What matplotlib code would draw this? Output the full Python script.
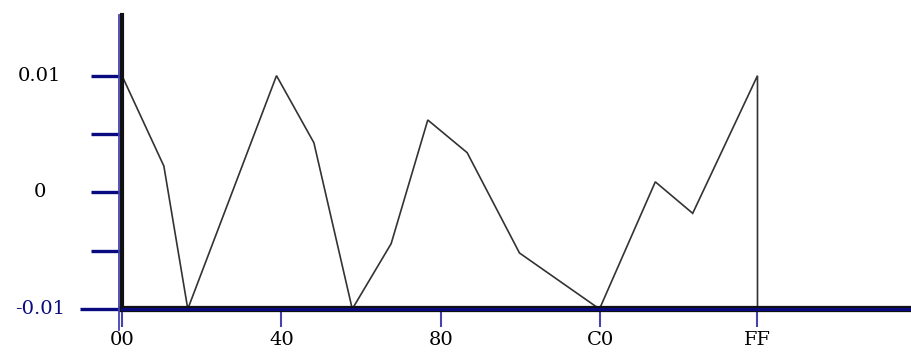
import matplotlib
matplotlib.use("Agg")
import matplotlib.pyplot as plt
import matplotlib.transforms as mtransforms

# data
x_vals = [0, 16.8, 26.4, 62, 77, 92.4, 108, 122.7, 138.5, 159.5, 191.6, 214, 229, 255, 255]
y_vals = [0.0100, 0.00225, -0.0100, 0.0100, 0.00425, -0.0100, -0.0044, 0.0062, 0.0034,
          -0.0052, -0.0100, 0.0009, -0.0018, 0.0100, -0.0100]
x_ticks = [0, 64, 128, 192, 255]
x_tick_labels = ["00", "40", "80", "C0", "FF"]
y_major = [-0.01, 0.0, 0.01]
y_major_labels = ["-0.01", "0", "0.01"]
y_minor = [-0.005, 0.005]

NAVY = "#0a0a80"
BLUE = "#4444b0"
FONT = ["DejaVu Serif"]

fig = plt.figure(figsize=(9.12, 3.58), dpi=100)
ax = fig.add_axes([122/912, (358-309)/358, (912-122)/912, (309-15)/358])
ax.plot(x_vals, y_vals, color="#333333", lw=1.2, solid_joinstyle="miter")

ax.set_xlim(0, 317)
ax.set_ylim(-0.01, 0.0152)

for s in ["top", "right"]:
    ax.spines[s].set_visible(False)
ax.spines["left"].set_color("#111111")
ax.spines["left"].set_linewidth(3)
ax.spines["bottom"].set_color("#111111")
ax.spines["bottom"].set_linewidth(4.5)
ax.spines["bottom"].set_zorder(3)
# inner navy stripe on bottom axis
ax.axhline(-0.01, color=NAVY, lw=2.2, zorder=4, clip_on=False)

# thin blue line left of the black spine
off = mtransforms.offset_copy(ax.transAxes, fig=fig, x=-2.5, y=0, units="dots")
ax.plot([0, 0], [-0.07, 1.0], color=BLUE, lw=1.3, transform=off, clip_on=False, zorder=5)

ax.set_xticks(x_ticks)
ax.set_xticklabels(x_tick_labels, family=FONT, fontsize=14)
ax.tick_params(axis="x", direction="out", length=13, width=1.5, color=BLUE, pad=3)

ax.set_yticks(y_major)
ax.set_yticks(y_minor, minor=True)
ax.set_yticklabels([])
ax.tick_params(axis="y", which="both", direction="out", length=22, width=2.4, color=NAVY)
ax.yaxis.get_major_ticks()[0].tick1line.set_markersize(30)

ytr = ax.get_yaxis_transform()
for v, lab in zip(y_major, y_major_labels):
    ax.text(-0.104, v, lab, transform=ytr, ha="center", va="center",
            family=FONT, fontsize=14,
            color=(NAVY if v < 0 else "black"))

fig.savefig("out.png", dpi=100)
